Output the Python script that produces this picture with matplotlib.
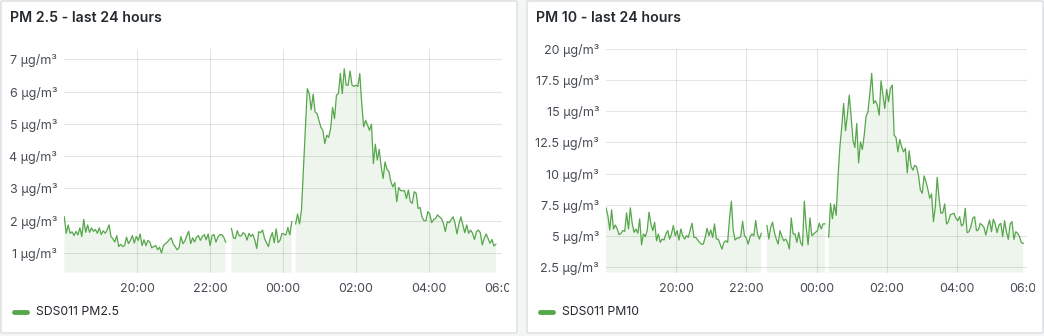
import numpy as np
import matplotlib
matplotlib.use('Agg')
import matplotlib.pyplot as plt
import matplotlib.dates as mdates
from matplotlib.patches import FancyBboxPatch
from matplotlib.transforms import Bbox, TransformedBbox

plt.rcParams['font.family'] = ['Inter', 'DejaVu Sans']

nan = np.nan

# readings every 192 s starting 18:00, NaN where the sensor dropped out
pm25_evening = [2.12, 1.61, 1.87, 1.61, 1.66, 1.54, 1.67, 1.56, 1.78, 1.51, 2.04, 1.64, 1.87, 1.64,
                1.78, 1.67, 1.73, 1.61, 1.78, 1.57, 1.69, 1.61, 1.71, 1.87, 1.51, 1.44, 1.34, 1.54,
                1.20, 1.27, 1.20, 1.23, 1.49, 1.29, 1.39, 1.54, 1.31, 1.51, 1.39, 1.59, 1.23, 1.41,
                1.23, 1.39, 1.34, 1.16, 1.20, 1.23, 1.10, 1.18, 1.00, 1.23, 1.29, 1.34, 1.41, 1.47,
                1.29, 1.20, 1.10, 1.16, 1.51, 1.29, 1.37, 1.54, 1.67, 1.29, 1.47, 1.34, 1.49, 1.54,
                1.39, 1.51, 1.57, 1.41, 1.59, 1.23, 1.54, 1.57, 1.34, 1.49, 1.57, 1.57, 1.49, 1.34]
pm25_late = [1.76, 1.47, 1.45, 1.69, 1.53, 1.53, 1.63, 1.58, 1.40, 1.61, 1.51, 1.58, 1.40, 1.14,
             1.66, 1.63, 1.71, 1.45, 1.32, 1.20, 1.47, 1.63, 1.32, 1.75, 1.32, 1.40, 1.61, 1.58,
             1.56, 1.79, 1.56, 1.97]
pm25_night = [1.90, 2.21, 1.90, 2.33, 3.57, 4.86, 6.09, 5.94, 5.44, 5.92, 5.37, 5.32, 5.11, 4.89,
              4.80, 4.39, 4.65, 4.58, 4.86, 5.51, 5.16, 5.89, 5.94, 6.56, 5.94, 6.71, 6.20, 6.20,
              6.64, 6.20, 6.16, 6.20, 6.16, 6.56,
              5.63, 4.91, 5.11, 4.96, 4.80, 4.99, 3.77, 4.37, 3.88, 4.21, 3.67, 3.31, 3.82, 3.59,
              3.52, 3.21, 3.05, 3.18, 2.59, 3.03, 2.93, 2.93, 2.93, 2.69, 2.95, 2.59, 2.54, 2.90,
              2.85, 2.38, 2.41, 2.12, 2.00, 2.00, 2.28, 2.21, 1.94, 2.04, 2.07, 2.18, 2.12, 2.07,
              1.92, 1.66, 1.97, 1.94, 2.04, 2.12, 1.92, 1.59, 1.90, 2.12, 1.87, 1.63, 1.87, 1.61,
              1.71, 1.61, 1.42, 1.66, 1.71, 1.63, 1.25, 1.45, 1.59, 1.45, 1.30, 1.42, 1.22, 1.27]

pm10_evening = [7.24, 6.62, 5.46, 7.08, 5.54, 5.86, 5.54, 5.08, 5.19, 5.41, 5.35, 6.84, 5.54, 7.24,
                6.00, 5.27, 5.54, 5.19, 6.35, 4.27, 5.14, 4.92, 5.41, 6.89, 5.95, 5.41, 6.08, 4.59,
                5.14, 4.46, 4.73, 4.65, 5.14, 5.41, 4.73, 5.14, 5.81, 5.00, 5.41, 4.65, 5.54, 5.00,
                4.73, 5.00, 4.86, 5.46, 6.00, 4.86, 4.86, 4.65, 4.46, 4.32, 4.32, 4.86, 5.59, 5.00,
                5.46, 4.86, 5.95, 4.73, 4.73, 4.32, 3.92, 4.46, 4.59, 4.46, 6.35, 7.78, 5.41, 4.65,
                4.81, 4.81, 4.92, 6.16, 5.00, 4.81, 4.32, 4.92, 5.14, 5.00, 6.22, 5.14, 4.73, 5.19]
pm10_late = [5.81, 4.73, 5.68, 6.08, 5.27, 4.73, 4.32, 5.41, 4.92, 4.59, 4.73, 4.46, 3.92, 6.43,
             5.14, 5.14, 4.46, 5.27, 4.46, 4.19, 7.78, 5.68, 4.27, 6.43, 5.00, 5.14, 5.27, 5.41,
             6.00, 5.54, 5.95, 5.95]
pm10_night = [4.89, 7.58, 6.37, 7.53, 6.64, 9.73, 12.15, 13.76, 15.65, 13.44, 14.70, 16.32, 14.57,
              12.69, 12.10, 14.03, 10.86, 12.55, 11.94, 13.09, 14.62, 14.97, 16.45, 18.06, 15.65,
              15.86, 15.51, 14.70, 17.47, 16.32, 15.24, 16.77, 15.78, 16.85, 17.12, 13.09, 12.90,
              11.75, 12.74, 12.15, 11.75, 12.02, 10.05, 11.83, 10.59, 10.27, 10.67, 10.54, 9.87,
              8.68, 8.41, 9.81, 9.35, 8.74, 8.01, 8.36, 6.13, 7.34, 9.70, 8.01, 6.80, 6.85, 7.55,
              5.94, 6.13, 6.67, 6.75, 6.80, 6.40, 6.21, 6.53, 5.78, 5.94, 7.20, 5.24, 5.32, 5.73,
              6.40, 6.53, 5.40, 5.46, 5.99, 5.86, 5.67, 5.05, 5.73, 6.26, 5.32, 6.32, 5.94, 5.24,
              5.86, 5.99, 4.92, 6.21, 5.32, 4.70, 5.94, 6.13, 4.70, 5.32, 5.19, 4.92, 4.44, 4.38]

pm25 = pm25_evening + [nan, nan] + pm25_late + [nan] + pm25_night
pm10 = pm10_evening + [nan, nan] + pm10_late + [nan] + pm10_night

pm25_ticks = [1, 2, 3, 4, 5, 6, 7]
pm10_ticks = [2.5, 5, 7.5, 10, 12.5, 15, 17.5, 20]

start = np.datetime64('2024-05-01T18:00')
end = np.datetime64('2024-05-02T06:00')
step = np.timedelta64(192, 's')

W, H = 1044, 336
GREEN = '#56a64b'
TEXT = '#24292e'
TICK = '#464c54'

fig = plt.figure(figsize=(W / 100, H / 100), dpi=100)
fig.patch.set_facecolor('#f4f5f5')


def px(x, y):
    return x / W, 1 - y / H


def panel(x0, x1, title, legend, ax_x0, ax_x1, values, ticks, ylim, fmt):
    # panel card, kept underneath the axes
    bx, by = px(x0, 333)
    card = FancyBboxPatch((bx, by), (x1 - x0) / W, 332 / H, boxstyle='round,pad=0,rounding_size=0.003',
                          transform=fig.transFigure, facecolor='white', edgecolor='#dcdee1', lw=1,
                          zorder=-5)
    fig.add_artist(card)
    fig.text(*px(x0 + 9, 18), title, fontsize=10.2, fontweight='semibold', color=TEXT, va='center')

    ax = fig.add_axes([ax_x0 / W, (H - 272.7) / H, (ax_x1 - ax_x0) / W, 223.4 / H])
    ax.set_facecolor('none')
    t = start + np.arange(len(values)) * step
    v = np.array(values, dtype=float)
    ax.fill_between(t, v, ylim[0], color=GREEN, alpha=0.1, lw=0)
    ax.plot(t, v, color=GREEN, lw=0.9)

    ax.set_xlim(start, end)
    ax.set_ylim(*ylim)
    ax.set_yticks(ticks)
    ax.set_yticklabels([fmt(k) + ' µg/m³' for k in ticks])
    ax.xaxis.set_major_locator(mdates.HourLocator(byhour=[0, 2, 4, 6, 20, 22]))
    ax.xaxis.set_major_formatter(mdates.DateFormatter('%H:%M'))
    ax.tick_params(length=0, labelsize=9, colors=TICK, pad=5)
    ax.tick_params(axis='x', pad=7.5)
    ax.grid(True, color='black', alpha=0.1, lw=0.8)
    for s in ax.spines.values():
        s.set_visible(False)

    # labels that run past the card edge get cut off
    clip = TransformedBbox(Bbox([[x0 / W, 0], [(x1 - 8) / W, 1]]), fig.transFigure)
    for lab in ax.get_xticklabels():
        lab.set_clip_box(clip)
        lab.set_clip_on(True)

    lx, ly = px(x0 + 13, 312)
    fig.add_artist(plt.Line2D([lx, lx + 13 / W], [ly, ly], transform=fig.transFigure,
                              color=GREEN, lw=3.5, solid_capstyle='round'))
    fig.text(*px(x0 + 35, 312), legend, fontsize=8.8, color=TEXT, va='center')
    return ax


panel(1, 517, 'PM 2.5 - last 24 hours', 'SDS011 PM2.5', 64.3, 501.7, pm25,
      pm25_ticks, (0.39, 7.31), lambda k: f'{k:g}')
panel(527, 1043, 'PM 10 - last 24 hours', 'SDS011 PM10', 606, 1027, pm10,
      pm10_ticks, (2.02, 20.0), lambda k: f'{k:g}')

fig.savefig('out.png', dpi=100, facecolor=fig.get_facecolor())
